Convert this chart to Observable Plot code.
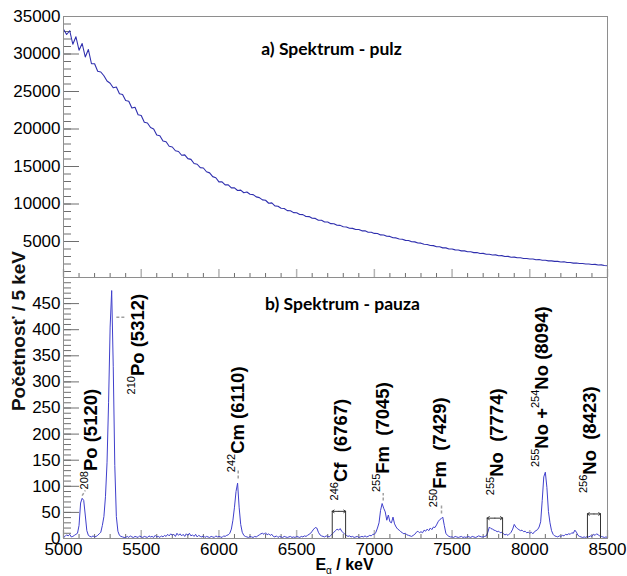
<!DOCTYPE html>
<html><head><meta charset="utf-8">
<script src="https://cdn.jsdelivr.net/npm/d3@7"></script>
<script src="https://cdn.jsdelivr.net/npm/@observablehq/plot@0.6"></script>
<style>
html,body{margin:0;padding:0;background:#fff;}
#chart{width:627px;height:576px;position:relative;}
#chart svg{display:block;overflow:visible;}
#ytitle{position:absolute;left:0;top:0;width:220px;height:24px;line-height:24px;text-align:center;
  font-family:'Liberation Sans',Arial,sans-serif;font-weight:bold;font-size:19px;color:#111;white-space:nowrap;
  transform:translate(-91px,319px) rotate(-90deg);}
</style></head><body><div id="chart"><div id="ytitle"></div></div>
<script>
// ---------- data ----------
const energyStart = 5000;          // keV
const topStep = 20;                // keV between listed values (panel a)
const topCounts = [
  33300, 32600, 33100, 31300, 32300,   // 5000
  30500, 31400, 29600, 30600, 28700,   // 5100
  28700, 27700, 27600, 27100, 26400,   // 5200
  26100, 25500, 25600, 24700, 24600,   // 5300
  23800, 23700, 22800, 22900, 21900,   // 5400
  21800, 20900, 20800, 20200, 20000,   // 5500
  19200, 19100, 18400, 18300, 17700,   // 5600
  17600, 17100, 17000, 16500, 16550,   // 5700
  16050, 15950, 15400, 15300, 14850,   // 5800
  14800, 14300, 14150, 13650, 13500,   // 5900
  12950, 12950, 12550, 12550, 12150,   // 6000
  12150, 11800, 11850, 11500, 11600,   // 6100
  11300, 11250, 10950, 10850, 10550,   // 6200
  10500, 10100, 10150, 9750, 9700,     // 6300
  9430, 9400, 9120, 9110, 8850,        // 6400
  8830, 8590, 8580, 8330, 8320,        // 6500
  8100, 8080, 7840, 7840, 7610,        // 6600
  7590, 7380, 7370, 7160, 7150,        // 6700
  6960, 6940, 6760, 6750, 6590,        // 6800
  6600, 6420, 6430, 6240, 6240,        // 6900
  6080, 6070, 5880, 5870, 5690,        // 7000
  5680, 5510, 5480, 5330, 5300,        // 7100
  5150, 5130, 4960, 4950, 4790,        // 7200
  4780, 4630, 4610, 4470, 4450,        // 7300
  4310, 4300, 4150, 4150, 4000,        // 7400
  4000, 3880, 3870, 3750, 3750,        // 7500
  3630, 3640, 3520, 3530, 3410,        // 7600
  3420, 3310, 3310, 3210, 3220,        // 7700
  3110, 3120, 3010, 3020, 2910,        // 7800
  2920, 2830, 2830, 2740, 2740,        // 7900
  2660, 2670, 2570, 2590, 2490,        // 8000
  2500, 2420, 2420, 2350, 2350,        // 8100
  2270, 2290, 2190, 2210, 2120,        // 8200
  2140, 2060, 2070, 2000, 2010,        // 8300
  1930, 1950, 1860, 1880, 1800,        // 8400
  1770                                 // 8500
];

const pauseStep = 10;              // keV between listed values (panel b)
const pauseCounts = [
  2, 4, 7, 5, 8, 3, 4, 6, 8, 10,            // 5000
  25, 68, 77, 73, 45, 15, 6, 4, 3, 5,       // 5100
  3, 4, 6, 9, 12, 25, 42, 80, 145, 260,     // 5200
  405, 475, 330, 140, 42, 14, 6, 4, 3, 2,   // 5300
  2, 4, 2, 5, 3, 2, 4, 3, 2, 5,             // 5400
  3, 2, 4, 3, 2, 5, 3, 4, 2, 6,             // 5500
  3, 4, 2, 5, 3, 6, 4, 8, 5, 9,             // 5600
  6, 8, 4, 10, 6, 9, 5, 8, 4, 9,            // 5700
  6, 10, 5, 7, 4, 8, 3, 6, 4, 3,            // 5800
  5, 2, 4, 3, 2, 4, 3, 2, 5, 3,             // 5900
  4, 3, 2, 5, 4, 6, 7, 10, 18, 35,          // 6000
  60, 90, 106, 60, 27, 12, 6, 4, 3, 2,      // 6100
  4, 3, 2, 4, 3, 5, 7, 9, 10, 8,            // 6200
  11, 7, 9, 6, 8, 4, 3, 5, 2, 4,            // 6300
  3, 2, 4, 3, 2, 3, 4, 2, 3, 2,             // 6400
  4, 3, 2, 4, 3, 5, 4, 6, 8, 10,            // 6500
  14, 18, 21, 20, 12, 7, 5, 4, 3, 5,        // 6600
  4, 3, 6, 9, 12, 15, 18, 16, 19, 14,       // 6700
  11, 8, 6, 4, 5, 3, 4, 2, 3, 4,            // 6800
  2, 3, 4, 3, 5, 3, 4, 6, 5, 8,             // 6900
  8, 12, 20, 30, 54, 67, 58, 51, 35, 45,    // 7000
  32, 30, 41, 28, 22, 18, 16, 13, 11, 9,    // 7100
  10, 7, 6, 5, 4, 6, 8, 12, 14, 11,         // 7200
  13, 11, 16, 14, 18, 15, 20, 17, 22, 21,   // 7300
  26, 32, 36, 38, 41, 25, 10, 6, 4, 3,      // 7400
  3, 2, 4, 3, 2, 3, 4, 2, 3, 2,             // 7500
  4, 3, 2, 4, 3, 2, 3, 5, 4, 3,             // 7600
  3, 4, 5, 12, 22, 19, 18, 16, 15, 13,      // 7700
  14, 11, 12, 9, 7, 8, 6, 9, 12, 18,        // 7800
  27, 22, 19, 17, 15, 16, 13, 14, 11, 12,   // 7900
  10, 12, 9, 13, 15, 17, 22, 32, 73, 118,   // 8000
  127, 98, 52, 30, 15, 8, 5, 4, 3, 5,       // 8100
  4, 6, 5, 8, 7, 9, 8, 11, 10, 16,          // 8200
  12, 6, 4, 3, 2, 3, 2, 4, 3, 5,            // 8300
  4, 8, 6, 9, 7, 5, 4, 3, 2, 3,             // 8400
  2                                         // 8500
];

const xTicks = [5000, 5500, 6000, 6500, 7000, 7500, 8000, 8500];
const topYTicks = [5000, 10000, 15000, 20000, 25000, 30000, 35000];
const pauseYTicks = [0, 50, 100, 150, 200, 250, 300, 350, 400, 450];

const titleA = "a) Spektrum - pulz";
const titleB = "b) Spektrum - pauza";
const yTitle = "Početnosť / 5 keV";
const xTitle = "E_{α} / keV";

// peak labels: energy / count where the rotated label starts
const peakNames  = ["^{208}Po (5120)", "^{210}Po (5312)", "^{242}Cm (6110)", "^{246}Cf  (6767)",
                    "^{255}Fm  (7045)", "^{250}Fm  (7429)", "^{255}No  (7774)",
                    "^{255}No +^{254}No (8094)", "^{256}No  (8423)"];
const peakLabelE = [5180, 5479, 6123, 6785, 7059, 7422, 7792, 8080, 8391];
const peakLabelN = [94, 276, 127, 73, 89, 60, 83, 137, 87];

// short grey pointer lines
const pointerE1 = [5120, 5340, 6124, 7057, 7432];
const pointerE2 = [5140, 5400, 6124, 7057, 7432];
const pointerN1 = [82, 424, 115, 73, 48];
const pointerN2 = [92, 424, 131, 87, 64];

// energy-window brackets
const bracketE1 = [6729, 7726, 8371];
const bracketE2 = [6815, 7825, 8455];
const bracketN  = [52, 39, 47];

// ---------- tables ----------
const topData = topCounts.map((n, i) => ({e: energyStart + i * topStep, n}));
const pauseData = pauseCounts.map((n, i) => ({e: energyStart + i * pauseStep, n}));
const labels = peakNames.map((t, i) => ({t, e: peakLabelE[i], n: peakLabelN[i]}));
const pointers = pointerE1.map((e1, i) => ({e1, e2: pointerE2[i], n1: pointerN1[i], n2: pointerN2[i]}));
const brackets = bracketE1.map((e1, i) => ({e1, e2: bracketE2[i], n: bracketN[i]}));
const bracketSides = brackets.flatMap(b => [{e: b.e1, n: b.n}, {e: b.e2, n: b.n}]);
const bracketHalves = brackets.flatMap(b => {
  const mid = (b.e1 + b.e2) / 2;
  return [{from: mid, to: b.e1, n: b.n}, {from: mid, to: b.e2, n: b.n}];
});

const W = 627, ML = 63, MR = 20;
const frameW = W - ML - MR;   // 544
const frameH = 261;
const xMinor = d3.range(5100, 8500, 100).filter(v => v % 500);
const fmt = d => String(d);
const sans = "'Liberation Sans', Arial, Helvetica, sans-serif";
const tickCol = "#6e6e6e", majorXCol = "#b4b4b4", frameCol = "#8e8e8e";

function applyScripts(svg) {
  d3.select(svg).selectAll("text").each(function() {
    const s = this.textContent;
    if (!/[\^_]\{/.test(s)) return;
    const node = d3.select(this);
    const size = parseFloat(getComputedStyle(this).fontSize) || 18;
    node.text(null);
    const parts = s.split(/([\^_]\{[^}]*\})/).filter(p => p.length);
    let shift = 0;
    for (const p of parts) {
      const m = p.match(/^([\^_])\{([^}]*)\}$/);
      const t = node.append("tspan");
      if (m) {
        const target = m[1] === "^" ? -0.5 * size : 0.25 * size;
        t.attr("dy", target - shift).attr("font-size", Math.round(size * 0.6)).attr("font-weight", "normal").text(m[2]);
        shift = target;
      } else {
        if (shift) t.attr("dy", -shift);
        shift = 0;
        t.text(p);
      }
    }
  });
}

// ---------- panel a ----------
const topChart = Plot.plot({
  width: W, height: 277,
  marginLeft: ML, marginRight: MR, marginTop: 16, marginBottom: 0,
  style: {fontFamily: sans, fontSize: "17px", color: "#000", overflow: "visible"},
  x: {domain: [5000, 8500], axis: null},
  y: {domain: [200, 35000], ticks: topYTicks, tickSize: 0, tickPadding: 3, label: null, tickFormat: fmt},
  marks: [
    Plot.tickY(d3.range(1000, 35001, 1000), {y: d => d, stroke: tickCol, insetRight: frameW - 8}),
    Plot.tickY(topYTicks, {y: d => d, stroke: tickCol, insetRight: frameW - 16}),
    Plot.tickX(xMinor, {x: d => d, stroke: tickCol, insetTop: frameH - 4}),
    Plot.tickX(xTicks, {x: d => d, stroke: majorXCol, strokeWidth: 1.5, insetTop: frameH - 8}),
    Plot.line(topData, {x: "e", y: "n", stroke: "#2f2fae", strokeWidth: 1.1}),
    Plot.frame({stroke: frameCol}),
    Plot.text([titleA], {text: d => d, frameAnchor: "top", dx: -4, dy: 26, fontFamily: "Lato, sans-serif",
      fontWeight: "bold", fontSize: 17.5, fill: "#000"})
  ]
});

// ---------- panel b ----------
const bottomChart = Plot.plot({
  width: W, height: 299,
  marginLeft: ML, marginRight: MR, marginTop: 0, marginBottom: 38,
  style: {fontFamily: sans, fontSize: "17px", color: "#000", overflow: "visible"},
  x: {domain: [5000, 8500], ticks: xTicks, tickSize: 0, tickPadding: 4, label: null, tickFormat: fmt},
  y: {domain: [0, 500], ticks: pauseYTicks, tickSize: 0, tickPadding: 3, label: null, tickFormat: fmt},
  marks: [
    Plot.tickY(d3.range(0, 501, 10), {y: d => d, stroke: tickCol, insetRight: frameW - 8}),
    Plot.tickY(pauseYTicks, {y: d => d, stroke: tickCol, insetRight: frameW - 16}),
    Plot.tickX(xMinor, {x: d => d, stroke: tickCol, insetTop: frameH - 4}),
    Plot.tickX(xTicks, {x: d => d, stroke: majorXCol, strokeWidth: 1.5, insetTop: frameH - 8}),
    Plot.line(pauseData, {x: "e", y: "n", stroke: "#4040cc", strokeWidth: 1}),
    Plot.link(pointers, {x1: "e1", x2: "e2", y1: "n1", y2: "n2", stroke: "#a0a0a0", strokeWidth: 1.5, strokeDasharray: "3,2"}),
    Plot.ruleX(bracketSides, {x: "e", y1: 0, y2: "n", stroke: "#333", strokeWidth: 1}),
    Plot.arrow(bracketHalves, {x1: "from", x2: "to", y1: "n", y2: "n", stroke: "#333", strokeWidth: 1,
      headLength: 5, headAngle: 70}),
    Plot.frame({stroke: frameCol}),
    Plot.text(labels, {x: "e", y: "n", text: "t", rotate: -90, textAnchor: "start",
      fontFamily: sans, fontWeight: "bold", fontSize: 18.5, fill: "#000"}),
    Plot.text([titleB], {text: d => d, frameAnchor: "top", dx: 7, dy: 20.5, fontFamily: "Lato, sans-serif",
      fontWeight: "bold", fontSize: 17.5, fill: "#000"}),
    Plot.text([xTitle], {text: d => d, frameAnchor: "bottom", dx: 9, dy: 31, fontFamily: sans,
      fontWeight: "bold", fontSize: 16, fill: "#000"})
  ]
});

const chart = document.getElementById("chart");
chart.appendChild(topChart);
chart.appendChild(bottomChart);
applyScripts(topChart);
applyScripts(bottomChart);
document.getElementById("ytitle").textContent = yTitle;
</script>
</body></html>
